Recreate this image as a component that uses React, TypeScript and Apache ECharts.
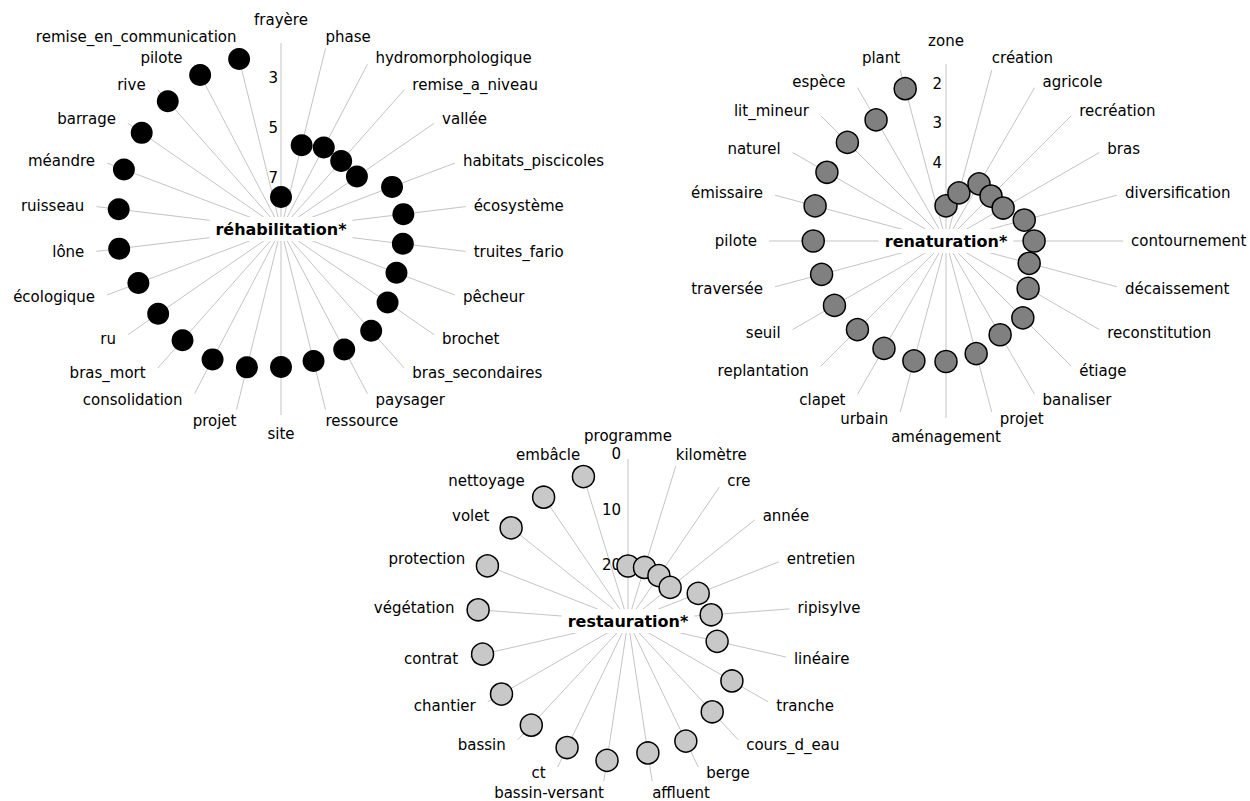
import React, { useEffect, useRef } from "react";
import * as echarts from "echarts";

// ---------- data ----------
const rehabWords = ["frayère", "phase", "hydromorphologique", "remise_a_niveau", "vallée", "habitats_piscicoles", "écosystème", "truites_fario", "pêcheur", "brochet", "bras_secondaires", "paysager", "ressource", "site", "projet", "consolidation", "bras_mort", "ru", "écologique", "lône", "ruisseau", "méandre", "barrage", "rive", "pilote", "remise_en_communication"];
const rehabValues = [7.8, 5.63, 5.4, 5.45, 5.39, 4.33, 4.15, 4.17, 4.14, 3.9, 3.64, 3.64, 3.64, 3.56, 3.38, 3.19, 3.14, 3.11, 2.98, 2.56, 2.54, 2.36, 2.31, 2.25, 2.12, 2.08];
const rehabTicks = [3, 5, 7];

const renatWords = ["zone", "création", "agricole", "recréation", "bras", "diversification", "contournement", "décaissement", "reconstitution", "étiage", "banaliser", "projet", "aménagement", "urbain", "clapet", "replantation", "seuil", "traversée", "pilote", "émissaire", "naturel", "lit_mineur", "espèce", "plant"];
const renatValues = [5.11, 4.74, 4.33, 4.39, 4.33, 3.95, 3.77, 3.82, 3.6, 3.25, 3.26, 3.05, 2.95, 2.86, 2.86, 2.83, 2.74, 2.74, 2.64, 2.57, 2.52, 2.47, 2.46, 2.01];
const renatTicks = [2, 3, 4];

const restWords = ["programme", "kilomètre", "cre", "année", "entretien", "ripisylve", "linéaire", "tranche", "cours_d_eau", "berge", "affluent", "bassin-versant", "ct", "bassin", "chantier", "contrat", "végétation", "protection", "volet", "nettoyage", "embâcle"];
const restValues = [20.36, 20.18, 20.38, 20.56, 16.68, 15.24, 13.8, 8.65, 7.96, 6.25, 6.22, 4.88, 4.97, 4.65, 3.95, 3.39, 3.19, 3.06, 3.33, 3.28, 3.03];
const restTicks = [0, 10, 20];

const titles = ["réhabilitation*", "renaturation*", "restauration*"];

// ---------- layout / style ----------
const FONT = "DejaVu Sans";
const panels = [
  { words: rehabWords, values: rehabValues, ticks: rehabTicks, title: titles[0], center: [281, 229], radius: 186, min: 1.64, max: 9.08, fill: "#000000", border: 0, tickGap: 3 },
  { words: renatWords, values: renatValues, ticks: renatTicks, title: titles[1], center: [946, 241], radius: 177, min: 1.52, max: 6.0, fill: "#808080", border: 1.5, tickGap: 4 },
  { words: restWords, values: restValues, ticks: restTicks, title: titles[2], center: [628, 621], radius: 162, min: 1.08, max: 30.27, fill: "#c8c8c8", border: 1.5, tickGap: 7 },
];

function buildOption() {
  const polar: any[] = [];
  const angleAxis: any[] = [];
  const radiusAxis: any[] = [];
  const series: any[] = [];

  panels.forEach((p, k) => {
    polar.push({ center: p.center, radius: p.radius });
    angleAxis.push({
      polarIndex: k,
      type: "category",
      data: p.words,
      boundaryGap: false,
      startAngle: 90,
      clockwise: true,
      axisLine: { show: false },
      axisTick: { show: false },
      axisLabel: { show: false },
      splitLine: { show: false },
    });
    radiusAxis.push({
      polarIndex: k,
      type: "value",
      min: p.min,
      max: p.max,
      inverse: true,
      axisLine: { show: false },
      axisTick: { show: false },
      axisLabel: { show: false },
      splitLine: { show: false },
    });

    // spokes
    series.push({
      type: "custom",
      coordinateSystem: "polar",
      polarIndex: k,
      z: 1,
      silent: true,
      data: p.words.map((w, i) => [p.min, i]),
      renderItem: (params: any, api: any) => {
        const i = api.value(1);
        const c = api.coord([p.max, i]);
        const e = api.coord([p.min, i]);
        return {
          type: "line",
          shape: { x1: c[0], y1: c[1], x2: e[0], y2: e[1] },
          style: { stroke: "#c4c4c4", lineWidth: 1 },
        };
      },
    });

    // word labels
    series.push({
      type: "custom",
      coordinateSystem: "polar",
      polarIndex: k,
      z: 3,
      silent: true,
      data: p.words.map((w, i) => [p.min, i]),
      renderItem: (params: any, api: any) => {
        const i = api.value(1);
        const c = api.coord([p.max, i]);
        const e = api.coord([p.min, i]);
        const dx = e[0] - c[0];
        const dy = e[1] - c[1];
        const len = Math.hypot(dx, dy) || 1;
        const ux = dx / len;
        const uy = dy / len;
        const thr = uy < 0 ? 0.32 : 0.25;
        let align = "left";
        let x = e[0];
        let y = e[1];
        if (Math.abs(ux) < 0.05) {
          align = "center";
          y = e[1] + uy * (uy < 0 ? 23.5 : 19);
        } else if (Math.abs(ux) < thr) {
          align = ux > 0 ? "left" : "right";
          y = e[1] + uy * 12;
        } else if (ux > 0) {
          align = "left";
          x = e[0] + 8;
          y = e[1] + uy * 7;
        } else {
          align = "right";
          x = e[0] - 12;
          y = e[1] + uy * 7;
        }
        return {
          type: "text",
          x,
          y,
          style: {
            text: p.words[i],
            align,
            verticalAlign: "middle",
            fill: "#000",
            fontSize: 15,
            fontFamily: FONT,
          },
        };
      },
    });

    // radius tick labels
    series.push({
      type: "custom",
      coordinateSystem: "polar",
      polarIndex: k,
      z: 2,
      silent: true,
      data: p.ticks.map((t) => [t, 0]),
      renderItem: (params: any, api: any) => {
        const pt = api.coord([api.value(0), 0]);
        return {
          type: "text",
          x: pt[0] - p.tickGap,
          y: pt[1] + 1,
          style: {
            text: String(p.ticks[params.dataIndex]),
            align: "right",
            verticalAlign: "middle",
            fill: "#000",
            fontSize: 15,
            fontFamily: FONT,
          },
        };
      },
    });

    // points
    series.push({
      type: "scatter",
      coordinateSystem: "polar",
      polarIndex: k,
      z: 3,
      symbol: "circle",
      symbolSize: 22,
      data: p.values.map((v, i) => [v, i]),
      itemStyle: {
        color: p.fill,
        borderColor: "#000",
        borderWidth: p.border,
        opacity: 1,
      },
    });

    // central title
    series.push({
      type: "custom",
      coordinateSystem: "polar",
      polarIndex: k,
      z: 5,
      silent: true,
      data: [[p.max, 0]],
      renderItem: (params: any, api: any) => {
        const pt = api.coord([p.max, 0]);
        return {
          type: "text",
          x: pt[0],
          y: pt[1],
          style: {
            text: p.title,
            align: "center",
            verticalAlign: "middle",
            fill: "#000",
            fontSize: 16,
            fontWeight: "bold",
            fontFamily: FONT,
            backgroundColor: "#ffffff",
            padding: [4, 6, 4, 6],
          },
        };
      },
    });
  });

  return {
    animation: false,
    backgroundColor: "#ffffff",
    polar,
    angleAxis,
    radiusAxis,
    series,
  };
}

export default function App() {
  const ref = useRef<HTMLDivElement>(null);
  useEffect(() => {
    if (!ref.current) return;
    const chart = echarts.init(ref.current, undefined, { renderer: "svg" });
    chart.setOption(buildOption() as any);
    return () => chart.dispose();
  }, []);
  return (
    <div
      ref={ref}
      style={{ position: "absolute", left: 0, top: 0, width: 1250, height: 801 }}
    />
  );
}
